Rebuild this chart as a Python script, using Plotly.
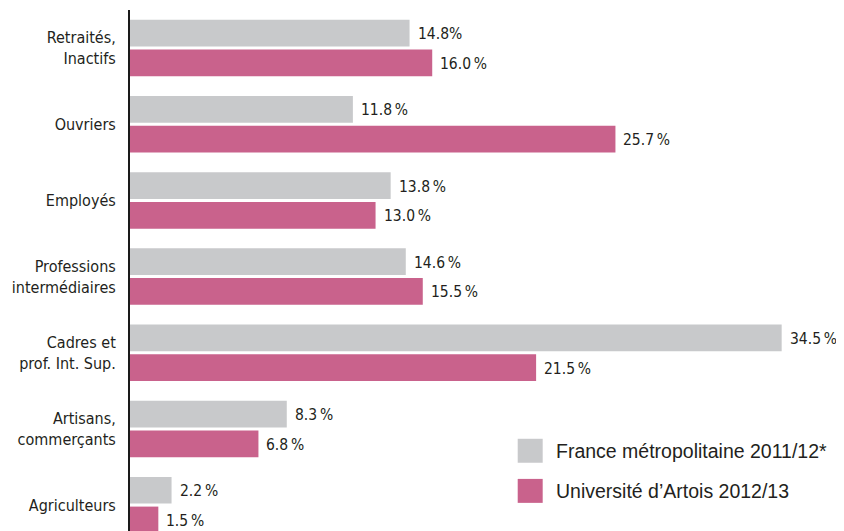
import plotly.graph_objects as go

categories = ["Retraités,<br>Inactifs", "Ouvriers", "Employés", "Professions<br>intermédiaires",
              "Cadres et<br>prof. Int. Sup.", "Artisans,<br>commerçants", "Agriculteurs"]
series_names = ["France métropolitaine 2011/12*", "Université d’Artois 2012/13"]
france = [14.8, 11.8, 13.8, 14.6, 34.5, 8.3, 2.2]
artois = [16.0, 25.7, 13.0, 15.5, 21.5, 6.8, 1.5]
france_labels = ["14.8%", "11.8\u202f%", "13.8\u202f%", "14.6\u202f%", "34.5\u202f%", "8.3\u202f%", "2.2\u202f%"]
artois_labels = ["16.0\u202f%", "25.7\u202f%", "13.0\u202f%", "15.5\u202f%", "21.5\u202f%", "6.8\u202f%", "1.5\u202f%"]

GREY = "#c8c9cb"
PINK = "#c9628c"
TXT = "#231f20"
FONT = "Liberation Sans Narrow, DejaVu Sans Condensed, Arial Narrow, sans-serif"

idx = list(range(len(categories)))
bargap = 0.22
slot = (1 - bargap) / 2

fig = go.Figure()
fig.add_trace(go.Bar(y=idx, x=france, orientation="h", marker=dict(color=GREY, line=dict(width=0)),
                     name=series_names[0], showlegend=False))
fig.add_trace(go.Bar(y=idx, x=artois, orientation="h", marker=dict(color=PINK, line=dict(width=0)),
                     name=series_names[1], showlegend=False))

annotations = []
for i in idx:
    annotations.append(dict(x=france[i], y=i - slot / 2, text=france_labels[i], xref="x", yref="y",
                            xanchor="left", yanchor="middle", xshift=6, yshift=-1, showarrow=False,
                            font=dict(family=FONT, size=15.5, color=TXT)))
    annotations.append(dict(x=artois[i], y=i + slot / 2, text=artois_labels[i], xref="x", yref="y",
                            xanchor="left", yanchor="middle", xshift=6, yshift=-1, showarrow=False,
                            font=dict(family=FONT, size=15.5, color=TXT)))

# manual legend
leg = [(series_names[0], GREY, 0.177, 0.131), (series_names[1], PINK, 0.100, 0.054)]
shapes = []
for name, col, ytop, ybot in leg:
    shapes.append(dict(type="rect", xref="paper", yref="paper", x0=0.543, x1=0.578, y0=ybot, y1=ytop,
                       fillcolor=col, line=dict(width=0)))
    annotations.append(dict(x=0.594, y=(ytop + ybot) / 2, xref="paper", yref="paper", text=name,
                            xanchor="left", yanchor="middle", showarrow=False,
                            font=dict(family="Liberation Sans, Arial, sans-serif", size=19.5, color=TXT)))

# page body has an 8px default margin: compensate so the figure lands at the reference position
fig.update_layout(
    width=836, height=523,
    margin=dict(l=122, r=0, t=2, b=0),
    paper_bgcolor="white", plot_bgcolor="white",
    barmode="group", bargap=bargap, bargroupgap=0.1,
    annotations=annotations, shapes=shapes,
    xaxis=dict(range=[0, 37.8], showgrid=False, zeroline=False, showticklabels=False, showline=False,
               automargin=False),
    yaxis=dict(range=[6.34, -0.5], tickmode="array", tickvals=idx, ticktext=categories,
               showgrid=False, zeroline=False, showline=True, linecolor="#1a1a1a", linewidth=2,
               ticks="", ticklabelstandoff=9, automargin=False,
               tickfont=dict(family=FONT, size=16, color=TXT)),
)

fig.write_html("out.html")
